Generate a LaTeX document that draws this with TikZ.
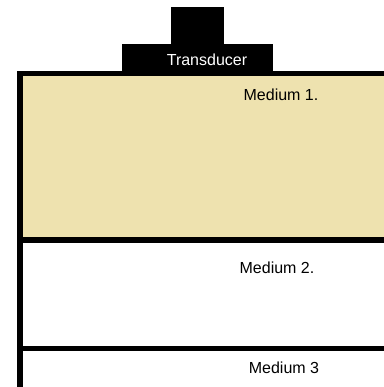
\documentclass[tikz,border=0pt]{standalone}
\usepackage{fontspec}
\setmainfont{Liberation Sans}
\definecolor{sand}{RGB}{238,226,175}
\begin{document}
\begin{tikzpicture}[x=0.75pt,y=-0.75pt]
	\tikzset{
	  wall/.style={line width=4.2pt},
	  medlabel/.style={font=\fontsize{12}{14}\selectfont,inner sep=0pt}
	}
	\useasboundingbox (0,0) rectangle (384,387);

        %MEDIUM 1 fill
        \fill[sand] (20,73) rectangle (384,240);

        %TRANSDUCER
        \fill[black] (171,7) rectangle (224,44);
        \fill[black] (122,44) rectangle (273,74);
        \node[medlabel,text=white] (trans) at (207,60) {Transducer};

        %FRAME
        \draw[wall] (20,387) -- (20,73.5) -- (384,73.5);
        %interfaces
        \draw[wall] (20,240) -- (384,240);
        \draw[wall] (20,348.5) -- (384,348.5);

        %labels
        \node[medlabel] (med1) at (281,95) {Medium 1.};
        \node[medlabel] (med2) at (277,268) {Medium 2.};
        \node[medlabel] (med3) at (284,368) {Medium 3};
    \end{tikzpicture}
\end{document}
